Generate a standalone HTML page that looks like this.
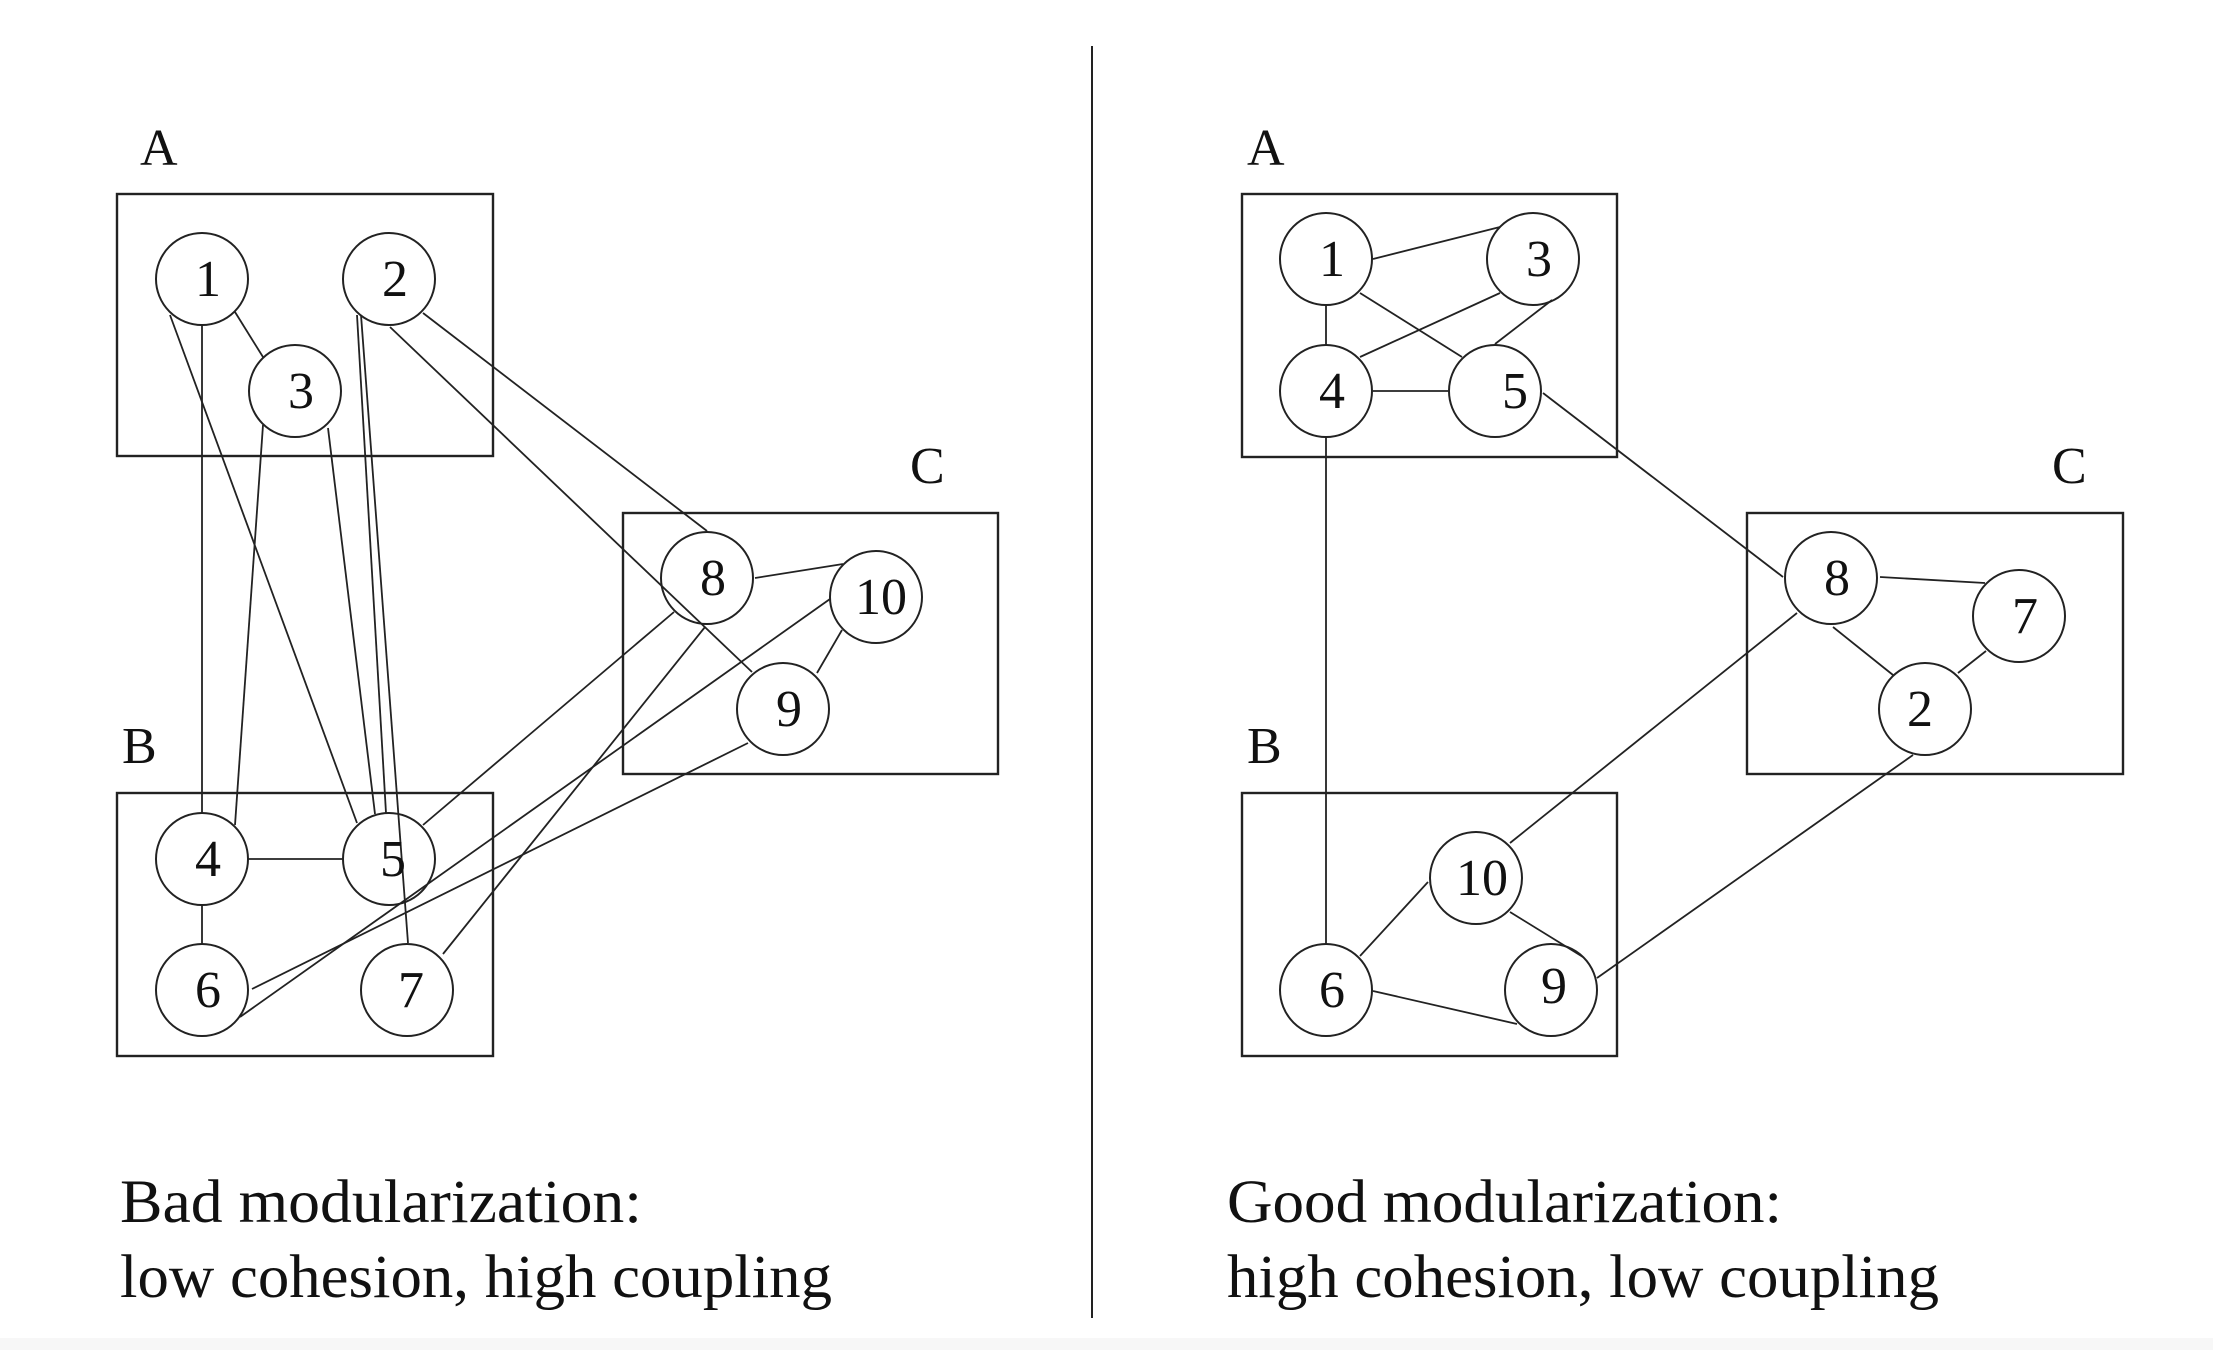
<!DOCTYPE html>
<html><head><meta charset="utf-8"><style>
html,body{margin:0;padding:0;background:#fff;}
svg{display:block;}
text{font-family:"Liberation Serif",serif;fill:#111;}
</style></head><body>
<svg width="2213" height="1350" viewBox="0 0 2213 1350" xmlns="http://www.w3.org/2000/svg">
<rect x="0" y="0" width="2213" height="1350" fill="#fff"/>
<rect x="0" y="1338" width="2213" height="12" fill="#f7f7f7"/>
<g stroke="#222" stroke-width="2.4" fill="none">
<rect x="117" y="194" width="376" height="262"/>
<rect x="117" y="793" width="376" height="263"/>
<rect x="623" y="513" width="375" height="261"/>
<rect x="1242" y="194" width="375" height="263"/>
<rect x="1242" y="793" width="375" height="263"/>
<rect x="1747" y="513" width="376" height="261"/>
<line x1="1092" y1="46" x2="1092" y2="1318" stroke-width="2"/>
</g>
<g stroke="#222" stroke-width="2" fill="#fff">
<circle cx="202" cy="279" r="46"/><circle cx="389" cy="279" r="46"/><circle cx="295" cy="391" r="46"/>
<circle cx="202" cy="859" r="46"/><circle cx="389" cy="859" r="46"/><circle cx="202" cy="990" r="46"/><circle cx="407" cy="990" r="46"/>
<circle cx="707" cy="578" r="46"/><circle cx="783" cy="709" r="46"/><circle cx="876" cy="597" r="46"/>
<circle cx="1326" cy="259" r="46"/><circle cx="1533" cy="259" r="46"/><circle cx="1326" cy="391" r="46"/><circle cx="1495" cy="391" r="46"/>
<circle cx="1831" cy="578" r="46"/><circle cx="2019" cy="616" r="46"/><circle cx="1925" cy="709" r="46"/>
<circle cx="1476" cy="878" r="46"/><circle cx="1326" cy="990" r="46"/><circle cx="1551" cy="990" r="46"/>
</g>
<g stroke="#222" stroke-width="1.8" fill="none">
<line x1="235" y1="312" x2="263" y2="357"/>
<line x1="202" y1="325" x2="202" y2="813"/>
<line x1="170" y1="315" x2="357" y2="823"/>
<line x1="263" y1="425" x2="235" y2="825"/>
<line x1="328" y1="428" x2="375" y2="814"/>
<line x1="357" y1="315" x2="386" y2="813"/>
<line x1="361" y1="315" x2="408" y2="943"/>
<line x1="248" y1="859" x2="343" y2="859"/>
<line x1="202" y1="905" x2="202" y2="944"/>
<line x1="423" y1="313" x2="707" y2="531"/>
<line x1="390" y1="327" x2="752" y2="672"/>
<line x1="755" y1="578" x2="843" y2="564"/>
<line x1="842" y1="630" x2="817" y2="673"/>
<line x1="674" y1="612" x2="423" y2="825"/>
<line x1="705" y1="627" x2="443" y2="954"/>
<line x1="830" y1="599" x2="240" y2="1017"/>
<line x1="748" y1="743" x2="252" y2="989"/>
<line x1="1373" y1="259" x2="1500" y2="227"/>
<line x1="1360" y1="293" x2="1462" y2="357"/>
<line x1="1500" y1="293" x2="1360" y2="357"/>
<line x1="1552" y1="300" x2="1495" y2="344"/>
<line x1="1373" y1="391" x2="1448" y2="391"/>
<line x1="1326" y1="305" x2="1326" y2="345"/>
<line x1="1326" y1="437" x2="1326" y2="944"/>
<line x1="1543" y1="393" x2="1783" y2="577"/>
<line x1="1880" y1="577" x2="1985" y2="583"/>
<line x1="1833" y1="627" x2="1893" y2="675"/>
<line x1="1986" y1="651" x2="1958" y2="673"/>
<line x1="1797" y1="613" x2="1510" y2="843"/>
<line x1="1913" y1="755" x2="1597" y2="978"/>
<line x1="1428" y1="882" x2="1360" y2="956"/>
<line x1="1510" y1="912" x2="1583" y2="957"/>
<line x1="1373" y1="991" x2="1517" y2="1024"/>
</g>
<g font-size="52" text-anchor="middle">
<text x="208" y="296">1</text><text x="395" y="296">2</text><text x="301" y="408">3</text>
<text x="208" y="876">4</text><text x="393" y="876">5</text><text x="208" y="1007">6</text><text x="411" y="1007">7</text>
<text x="713" y="595">8</text><text x="789" y="726">9</text><text x="881" y="614">10</text>
<text x="1332" y="276">1</text><text x="1539" y="276">3</text><text x="1332" y="408">4</text><text x="1515" y="408">5</text>
<text x="1837" y="595">8</text><text x="2025" y="633">7</text><text x="1920" y="726">2</text>
<text x="1482" y="895">10</text><text x="1332" y="1007">6</text><text x="1554" y="1003">9</text>
</g>
<g font-size="52">
<text x="140" y="165">A</text><text x="122" y="763">B</text><text x="910" y="483">C</text>
<text x="1247" y="165">A</text><text x="1247" y="763">B</text><text x="2052" y="483">C</text>
</g>
<g font-size="61">
<text x="120" y="1222" textLength="522" lengthAdjust="spacingAndGlyphs">Bad modularization:</text>
<text x="120" y="1297" textLength="712" lengthAdjust="spacingAndGlyphs">low cohesion, high coupling</text>
<text x="1227" y="1222" textLength="555" lengthAdjust="spacingAndGlyphs">Good modularization:</text>
<text x="1227" y="1297" textLength="712" lengthAdjust="spacingAndGlyphs">high cohesion, low coupling</text>
</g>
</svg>
</body></html>
